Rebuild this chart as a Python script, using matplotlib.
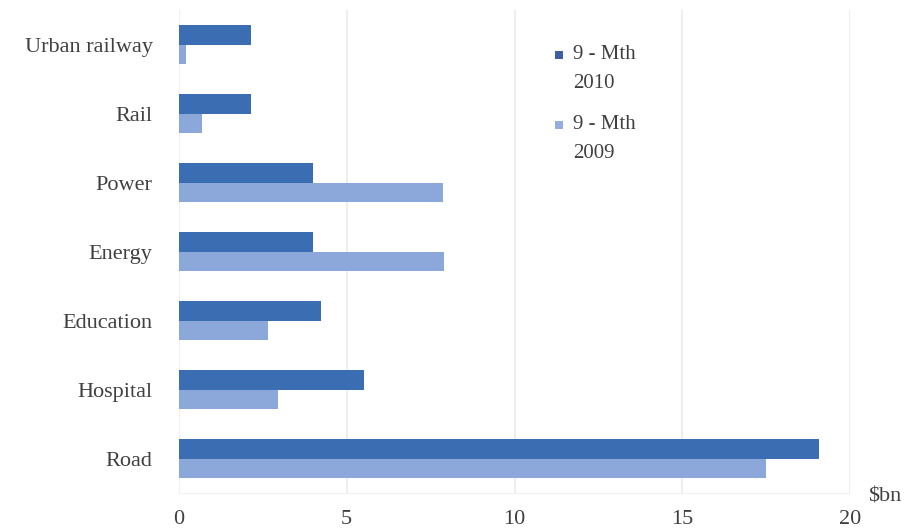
import matplotlib
matplotlib.use("Agg")
import matplotlib.pyplot as plt
from matplotlib.patches import Rectangle
import numpy as np

categories = ["Urban railway", "Rail", "Power", "Energy", "Education", "Hospital", "Road"]
series_names = ["9 - Mth\n2010", "9 - Mth\n2009"]
values_2010 = [2.15, 2.15, 4.0, 4.0, 4.23, 5.5, 19.07]
values_2009 = [0.22, 0.7, 7.86, 7.9, 2.64, 2.95, 17.5]
x_ticks = [0, 5, 10, 15, 20]

plt.rcParams['font.family'] = ['Liberation Serif', 'DejaVu Serif']

W, H = 908, 529
fig = plt.figure(figsize=(W/100, H/100), dpi=100)
ax = fig.add_axes([179/W, 1-493/H, (850-179)/W, (493-10)/H])

y = np.arange(len(categories))
h = 0.28
c_dark = "#3a6db2"
c_light = "#8ca7d9"
ax.barh(y - h/2, values_2010, height=h, color=c_dark, label=series_names[0], zorder=3)
ax.barh(y + h/2, values_2009, height=h, color=c_light, label=series_names[1], zorder=3)

ax.set_ylim(len(categories) - 0.5, -0.5)
ax.set_xlim(0, 20)
ax.set_xticks(x_ticks)
ax.set_xticklabels([str(t) for t in x_ticks])
ax.set_yticks(y)
ax.set_yticklabels(categories)
ax.tick_params(axis='both', length=0, labelsize=16, colors="#404040")
ax.tick_params(axis='x', pad=12)
ax.tick_params(axis='y', pad=19)
ax.grid(axis='x', color="#ebebeb", linewidth=1.2, zorder=0)
for s in ["top", "right"]:
    ax.spines[s].set_visible(False)
ax.spines["left"].set_color("#f0f0f0")
ax.spines["bottom"].set_color("#f0f0f0")

# legend (manual, square aligned with first text line)
leg_colors = ["#3f5ea6", "#97ace0"]
leg_y = [55, 125]
for name, col, yy in zip(series_names, leg_colors, leg_y):
    fig.patches.append(Rectangle((555/W, 1-(yy+4)/H), 8/W, 8/H, transform=fig.transFigure,
                                 facecolor=col, edgecolor="none"))
    fig.text(573/W, 1-(yy-10)/H, name, fontsize=15, color="#404040", va="top", ha="left",
             linespacing=1.75)

fig.text(868/W, 1-497/H, "$bn", fontsize=16, color="#404040", va="center", ha="left")

fig.savefig("out.png", dpi=100)
